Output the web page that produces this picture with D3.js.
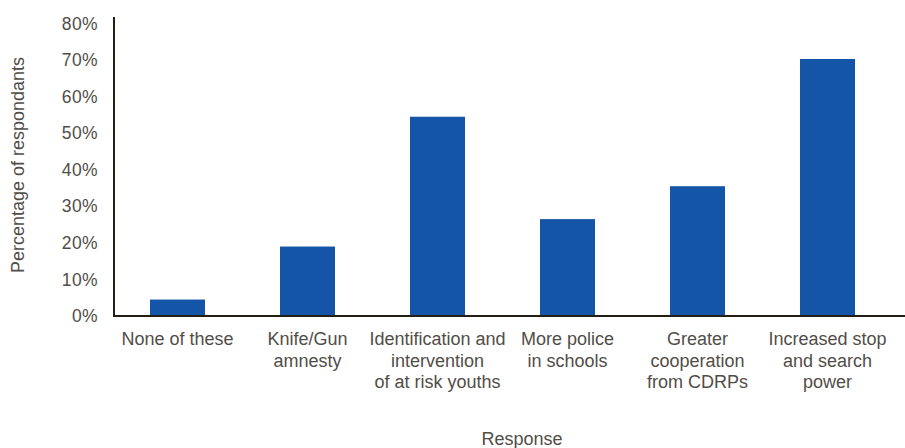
<!DOCTYPE html>
<html>
<head>
<meta charset="utf-8">
<script src="https://cdn.jsdelivr.net/npm/d3@7"></script>
<style>
  html, body { margin: 0; padding: 0; background: #fff; }
  svg text { font-family: "Liberation Sans", Arial, sans-serif; fill: #524d47; }
</style>
</head>
<body>
<svg id="chart" width="905" height="448"></svg>
<script>
const categories = [
  ["None of these"],
  ["Knife/Gun", "amnesty"],
  ["Identification and", "intervention", "of at risk youths"],
  ["More police", "in schools"],
  ["Greater", "cooperation", "from CDRPs"],
  ["Increased stop", "and search", "power"]
];
const values = [4.5, 19, 54.5, 26.5, 35.5, 70.3];
const yTicks = [0, 10, 20, 30, 40, 50, 60, 70, 80];
const yTitle = "Percentage of respondants";
const xTitle = "Response";

const svg = d3.select("#chart");
const axisX0 = 114, baseY = 316;

const x = d3.scaleBand()
  .domain(categories.map((d, i) => i))
  .range([112.5, 892.5])
  .paddingInner(75 / 130)
  .paddingOuter(75 / 260);

const y = d3.scaleLinear().domain([0, 80]).range([baseY, 23.5]);

// bars
svg.append("g").selectAll("rect")
  .data(values)
  .join("rect")
  .attr("x", (d, i) => x(i))
  .attr("width", x.bandwidth())
  .attr("y", d => y(d))
  .attr("height", d => y(0) - y(d))
  .attr("fill", "#1555a8");

// y tick labels
const yAxis = d3.axisLeft(y).tickValues(yTicks).tickFormat(d => d + "%").tickSize(0).tickPadding(0);
const gy = svg.append("g").attr("transform", `translate(98,0)`).call(yAxis);
gy.select(".domain").remove();
gy.selectAll("text")
  .attr("font-size", 17.5)
  .attr("letter-spacing", "0.4px")
  .attr("font-family", "Liberation Sans, Arial, sans-serif")
  .attr("fill", "#524d47");

// axis lines
svg.append("line")
  .attr("x1", axisX0).attr("x2", axisX0)
  .attr("y1", 17).attr("y2", baseY + 1)
  .attr("stroke", "#231f17").attr("stroke-width", 2);
svg.append("line")
  .attr("x1", axisX0 - 1).attr("x2", 905)
  .attr("y1", baseY).attr("y2", baseY)
  .attr("stroke", "#231f17").attr("stroke-width", 2);

// category labels
const cg = svg.append("g").selectAll("text")
  .data(categories)
  .join("text")
  .attr("text-anchor", "middle")
  .attr("font-size", 18)
  .attr("transform", (d, i) => `translate(${x(i) + x.bandwidth() / 2},345)`);
cg.selectAll("tspan")
  .data(d => d)
  .join("tspan")
  .attr("x", 0)
  .attr("y", (d, j) => j * 21.5)
  .text(d => d);

// axis titles
svg.append("text")
  .attr("transform", "translate(24,165) rotate(-90)")
  .attr("text-anchor", "middle")
  .attr("font-size", 18)
  .text(yTitle);
svg.append("text")
  .attr("x", 522)
  .attr("y", 445)
  .attr("text-anchor", "middle")
  .attr("font-size", 18)
  .text(xTitle);
</script>
</body>
</html>
